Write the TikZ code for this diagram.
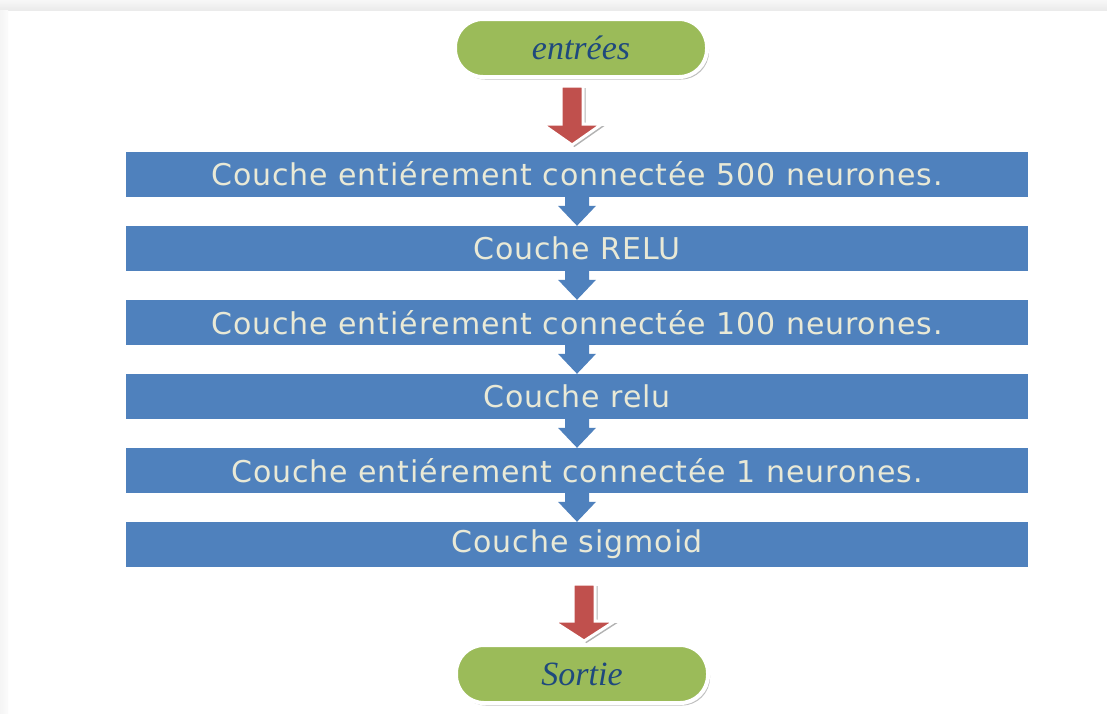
\documentclass[tikz,border=0pt]{standalone}
\usepackage{fontspec}
\setmainfont{Liberation Serif}
\newfontfamily\layerfont[LetterSpace=3]{DejaVu Sans}
\usetikzlibrary{calc,shadows}

\definecolor{layerblue}{HTML}{4F81BD}
\definecolor{layertext}{HTML}{E9E9D6}
\definecolor{termgreen}{HTML}{9BBB59}
\definecolor{termtext}{HTML}{1F497D}
\definecolor{flowred}{HTML}{C0504D}

\tikzset{
  layerbox/.style={rectangle, fill=layerblue, draw=none,
    minimum width=902pt, minimum height=45pt, inner sep=0pt,
    text=layertext, font=\layerfont\fontsize{30}{34}\selectfont},
  terminal/.style={rectangle, rounded corners=28pt, fill=termgreen,
    draw=white, line width=4pt, minimum width=252pt, minimum height=58pt,
    inner sep=0pt, text=termtext,
    font=\itshape\fontsize{34}{38}\selectfont,
    drop shadow={shadow xshift=2pt, shadow yshift=-2.5pt, fill=black, opacity=0.25}},
  bigarrow/.style={fill=flowred, draw=white, line width=3pt, line join=miter,
    drop shadow={shadow xshift=2.5pt, shadow yshift=-2pt, fill=black, opacity=0.3}},
  smallarrow/.style={fill=layerblue, draw=none}
}

% block arrow pointing down from #2 to #3: shaft half-width, head half-width, head length
\newcommand\flowarrow[6]{%
  \path[#1] ($(#2)+(-#4,0)$) -- ($(#3)+(-#4,-#6)$) -- ($(#3)+(-#5,-#6)$)
    -- (#3) -- ($(#3)+(#5,-#6)$) -- ($(#3)+(#4,-#6)$) -- ($(#2)+(#4,0)$) -- cycle;}

\begin{document}
\begin{tikzpicture}[x=1pt,y=-1pt]
  \useasboundingbox (0,0) rectangle (1107,713);
  \fill[white] (0,0) rectangle (1107,713);
  % light grey frame along top and left edges
  \shade[top color=gray!6, bottom color=gray!16] (0,0) rectangle (1107,10);
  \shade[left color=gray!8, right color=gray!3] (0,10) rectangle (8,713);

  % terminals
  \node[terminal] (in)  at (581,48)  {entrées};
  \node[terminal] (out) at (582,674) {Sortie};

  % layers
  \node[layerbox] (b1) at (577,174.0) {Couche entiérement connectée 500 neurones.};
  \node[layerbox] (b2) at (577,248.5) {Couche RELU};
  \node[layerbox] (b3) at (577,322.5) {Couche entiérement connectée 100 neurones.};
  \node[layerbox] (b4) at (577,396.5) {Couche relu};
  \node[layerbox] (b5) at (577,470.5) {Couche entiérement connectée 1 neurones.};
  \node[layerbox] (b6) at (577,544.5) {Couche sigmoid};

  % arrows between layers
  \foreach \a/\b in {b1/b2,b2/b3,b3/b4,b4/b5,b5/b6}
    \flowarrow{smallarrow}{\a.south}{\b.north}{12}{19}{20};

  % arrows into the first layer and out of the last one
  \coordinate (a1s) at (572,86);
  \coordinate (a1e) at (572,145);
  \coordinate (a2s) at (584,584);
  \coordinate (a2e) at (584,641);
  \flowarrow{bigarrow}{a1s}{a1e}{11}{30}{21};
  \flowarrow{bigarrow}{a2s}{a2e}{11}{31}{20};
\end{tikzpicture}
\end{document}
